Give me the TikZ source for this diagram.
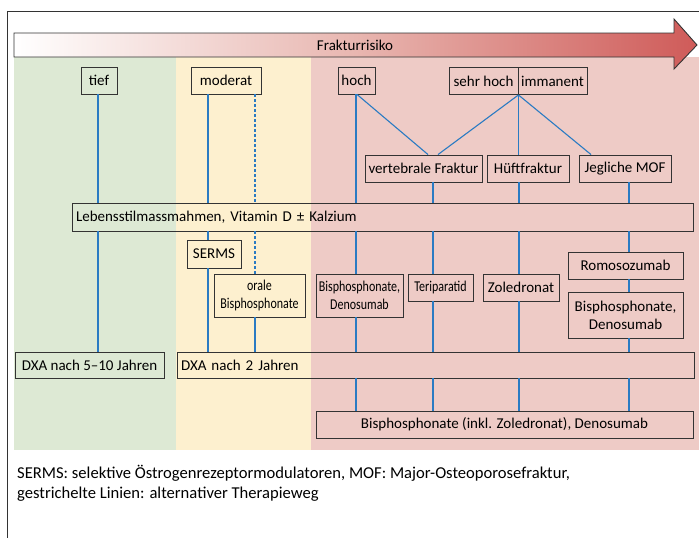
\documentclass[tikz,border=0pt]{standalone}
\usepackage{fontspec}
\setmainfont{Carlito}
\newfontfamily\condfont[FakeStretch=0.8]{Carlito}
\usetikzlibrary{calc}
\definecolor{bandgreen}{HTML}{DDE9D4}
\definecolor{bandyellow}{HTML}{FDF0CF}
\definecolor{bandred}{HTML}{EECBC6}
\definecolor{arrowred}{HTML}{CF5B59}
\definecolor{arrowmid}{HTML}{E8B6B0}
\definecolor{boxline}{HTML}{333333}
\definecolor{linkblue}{HTML}{2A7BC3}
\begin{document}
\begin{tikzpicture}[x=1pt,y=-1pt,
  font=\fontsize{15}{18}\selectfont,
  box/.style={draw=boxline, line width=0.9pt, inner sep=0pt, minimum height=27pt, align=center},
  cond/.style={font=\condfont\fontsize{15}{18}\selectfont},
  conn/.style={draw=linkblue, line width=1.1pt},
  alt/.style={conn, dash pattern=on 3pt off 2pt}]
\useasboundingbox (0,0) rectangle (699,538);
% frame
\draw[boxline, line width=0.9pt] (7,538) -- (7,11) -- (699,11);
% bands
\fill[bandgreen] (14,57) rectangle (176,450);
\fill[bandyellow] (176,57) rectangle (311,450);
\fill[bandred] (311,57) rectangle (699,450);
% arrow
\draw[boxline, line width=0.9pt, left color=white, right color=arrowred, middle color=arrowmid]
  (14,33) -- (674,33) -- (674,19) -- (697,45) -- (674,69) -- (674,57) -- (14,57) -- cycle;
\node (risk) at (355,45) {Frakturrisiko};
% column coordinates
\coordinate (cT) at (98,0);
\coordinate (cMs) at (208,0);
\coordinate (cMd) at (255,0);
\coordinate (cH) at (356,0);
\coordinate (cV) at (433,0);
\coordinate (cHf) at (519,0);
\coordinate (cMo) at (629,0);
\coordinate (dH) at (357,0);
\coordinate (dV1) at (428,0);
\coordinate (dV2) at (438,0);
\coordinate (dMo) at (591,0);
% risk level nodes
\node[box, minimum width=36pt] (tief) at (99,80.5) {tief};
\node[box, minimum width=70pt] (moderat) at (226,80.5) {moderat};
\node[box, minimum width=37pt] (hoch) at (356.5,80.5) {hoch};
\node[box, minimum width=69pt] (sehr) at (483.5,81) {sehr hoch};
\node[box, minimum width=69pt] (imm) at (552.5,81) {immanent};
% fracture nodes
\node[box, minimum width=117pt] (vert) at (423.5,168.5) {vertebrale Fraktur};
\node[box, minimum width=82pt] (hueft) at (528,168.5) {Hüftfraktur};
\node[box, minimum width=92pt] (mof) at (625,168.5) {Jegliche MOF};
% lifestyle
\node[box, minimum height=28pt, text width=613pt, inner xsep=4pt, align=left] (leb) at (382.5,217) {Lebensstilmassmahmen, Vitamin D ± Kalzium};
% therapies
\node[box, minimum width=54pt, minimum height=28pt] (serms) at (214,254) {SERMS};
\node[box, cond, minimum width=91pt, minimum height=43pt] (orale) at (259.5,295.5) {orale\\Bisphosphonate};
\node[box, cond, minimum width=87pt, minimum height=43pt] (bd1) at (359.5,295.5) {Bisphosphonate,\\Denosumab};
\node[box, cond, minimum width=65pt] (teri) at (440.5,287.5) {Teriparatid};
\node[box, minimum width=76pt] (zole) at (521,287.5) {Zoledronat};
\node[box, minimum width=115pt] (romo) at (625.5,265.5) {Romosozumab};
\node[box, minimum width=115pt, minimum height=46pt] (bd2) at (625.5,315) {Bisphosphonate,\\Denosumab};
% DXA
\node[box, minimum width=149pt, minimum height=26pt] (dxa1) at (89.5,365) {DXA nach 5–10 Jahren};
\node[box, minimum height=26pt, text width=509pt, inner xsep=4pt, align=left] (dxa2) at (435.5,365) {DXA nach 2 Jahren};
% bottom
\node[box, minimum width=377pt] (bis) at (504.5,424.5) {Bisphosphonate (inkl. Zoledronat), Denosumab};
% caption
\node[anchor=west, align=left, inner sep=0pt, font=\fontsize{16.6}{20}\selectfont] (cap) at (17,483)
  {SERMS: selektive Östrogenrezeptormodulatoren, MOF: Major-Osteoporosefraktur,\\gestrichelte Linien: alternativer Therapieweg};
% connectors: tief
\draw[conn] (tief.south -| cT) -- (leb.north -| cT);
\draw[conn] (leb.south -| cT) -- (dxa1.north -| cT);
% moderat
\draw[conn] (moderat.south -| cMs) -- (leb.north -| cMs);
\draw[conn] (leb.south -| cMs) -- (serms.north -| cMs);
\draw[conn] (serms.south -| cMs) -- (dxa2.north -| cMs);
\draw[alt] (moderat.south -| cMd) -- (leb.north -| cMd);
\draw[alt] (leb.south -| cMd) -- (orale.north -| cMd);
\draw[conn] (orale.south -| cMd) -- (dxa2.north -| cMd);
% hoch
\draw[conn] (hoch.south -| cH) -- (leb.north -| cH);
\draw[conn] (leb.south -| cH) -- (bd1.north -| cH);
\draw[conn] (bd1.south -| cH) -- (dxa2.north -| cH);
\draw[conn] (dxa2.south -| cH) -- (bis.north -| cH);
% diagonals
\draw[conn] (hoch.south -| dH) -- (vert.north -| dV1);
\draw[conn] (sehr.south east) -- (vert.north -| dV2);
\draw[conn] (sehr.south east) -- (sehr.south east |- hueft.north);
\draw[conn] (sehr.south east) -- (mof.north -| dMo);
% vertebrale
\draw[conn] (vert.south -| cV) -- (leb.north -| cV);
\draw[conn] (leb.south -| cV) -- (teri.north -| cV);
\draw[conn] (teri.south -| cV) -- (dxa2.north -| cV);
\draw[conn] (dxa2.south -| cV) -- (bis.north -| cV);
% hueft
\draw[conn] (hueft.south -| cHf) -- (leb.north -| cHf);
\draw[conn] (leb.south -| cHf) -- (zole.north -| cHf);
\draw[conn] (zole.south -| cHf) -- (dxa2.north -| cHf);
\draw[conn] (dxa2.south -| cHf) -- (bis.north -| cHf);
% MOF
\draw[conn] (mof.south -| cMo) -- (leb.north -| cMo);
\draw[conn] (leb.south -| cMo) -- (romo.north -| cMo);
\draw[conn] (romo.south -| cMo) -- (bd2.north -| cMo);
\draw[conn] (bd2.south -| cMo) -- (dxa2.north -| cMo);
\draw[conn] (dxa2.south -| cMo) -- (bis.north -| cMo);
\end{tikzpicture}
\end{document}
